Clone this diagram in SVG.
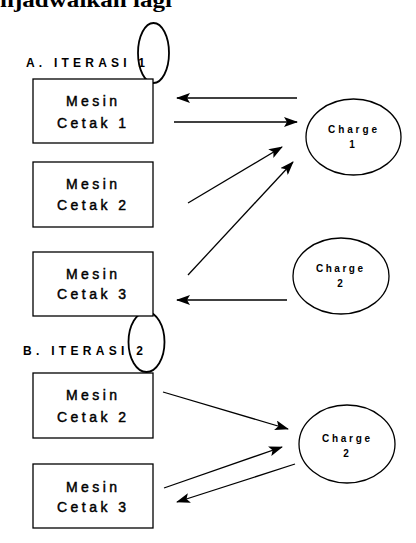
<svg xmlns="http://www.w3.org/2000/svg" width="416" height="543" viewBox="0 0 416 543">
<style>
.box{fill:#fff;stroke:#000;stroke-width:1.3}
.ell{fill:none;stroke:#000;stroke-width:1.3}
.mark{fill:none;stroke:#000;stroke-width:1.8}
.t{font-family:"Liberation Sans",Arial,sans-serif;font-size:14px;fill:#000;stroke:#000;stroke-width:0.45}
.h{font-family:"Liberation Sans",Arial,sans-serif;font-size:12px;fill:#000;font-weight:bold}
.c{font-family:"Liberation Sans",Arial,sans-serif;font-size:10px;fill:#000;font-weight:bold}
.top{font-family:"Liberation Serif","Times New Roman",serif;font-size:22px;font-weight:bold;fill:#000}
.ln{stroke:#000;stroke-width:1.3;fill:none;marker-end:url(#ah)}
</style>
<defs>
<marker id="ah" viewBox="0 0 14 10" refX="13" refY="5" markerWidth="14" markerHeight="10" markerUnits="userSpaceOnUse" orient="auto">
<path d="M0,0 L14,5 L0,10 L3,5 Z" fill="#000"/>
</marker>
</defs>
<rect width="416" height="543" fill="#fff"/>
<text class="top" x="0" y="7" textLength="172" lengthAdjust="spacingAndGlyphs">njadwalkan lagi</text>

<g id="titleA">
<text class="h" x="26" y="67" textLength="119" lengthAdjust="spacing">A. ITERASI 1</text>
<ellipse class="mark" cx="153.5" cy="53" rx="15.5" ry="30"/>
</g>
<g id="titleB">
<text class="h" x="23" y="355" textLength="120" lengthAdjust="spacing">B. ITERASI 2</text>
<ellipse class="mark" cx="146.5" cy="342" rx="18" ry="30"/>
</g>

<g id="mesin1a">
<rect class="box" x="33" y="79" width="120" height="64"/>
<text class="t" x="66" y="106" textLength="51" lengthAdjust="spacing">Mesin</text>
<text class="t" x="57" y="128" textLength="69" lengthAdjust="spacing">Cetak 1</text>
</g>
<g id="mesin2a">
<rect class="box" x="33" y="162" width="120" height="65"/>
<text class="t" x="66" y="189" textLength="51" lengthAdjust="spacing">Mesin</text>
<text class="t" x="57" y="210" textLength="69" lengthAdjust="spacing">Cetak 2</text>
</g>
<g id="mesin3a">
<rect class="box" x="33" y="252" width="120" height="64"/>
<text class="t" x="66" y="279" textLength="51" lengthAdjust="spacing">Mesin</text>
<text class="t" x="57" y="299" textLength="69" lengthAdjust="spacing">Cetak 3</text>
</g>
<g id="charge1a">
<ellipse class="ell" cx="353.5" cy="137" rx="47.5" ry="38"/>
<text class="c" x="328" y="133" textLength="49" lengthAdjust="spacing">Charge</text>
<text class="c" x="352" y="148" text-anchor="middle">1</text>
</g>
<g id="charge2a">
<ellipse class="ell" cx="341" cy="276" rx="48" ry="38"/>
<text class="c" x="316" y="272" textLength="47" lengthAdjust="spacing">Charge</text>
<text class="c" x="340" y="287" text-anchor="middle">2</text>
</g>

<g id="mesin2b">
<rect class="box" x="33" y="373" width="120" height="65"/>
<text class="t" x="66" y="400" textLength="51" lengthAdjust="spacing">Mesin</text>
<text class="t" x="57" y="422" textLength="69" lengthAdjust="spacing">Cetak 2</text>
</g>
<g id="mesin3b">
<rect class="box" x="33" y="464" width="120" height="64"/>
<text class="t" x="66" y="492" textLength="51" lengthAdjust="spacing">Mesin</text>
<text class="t" x="57" y="512" textLength="69" lengthAdjust="spacing">Cetak 3</text>
</g>
<g id="charge2b">
<ellipse class="ell" cx="347" cy="444" rx="48" ry="39"/>
<text class="c" x="322" y="442" textLength="48" lengthAdjust="spacing">Charge</text>
<text class="c" x="346" y="457" text-anchor="middle">2</text>
</g>

<g id="connectors">
<line class="ln" x1="297" y1="98" x2="177" y2="98"/>
<line class="ln" x1="174" y1="122" x2="297" y2="122"/>
<line class="ln" x1="188" y1="203" x2="282" y2="147"/>
<line class="ln" x1="188" y1="275" x2="293" y2="162"/>
<line class="ln" x1="287" y1="300" x2="177" y2="300"/>
<line class="ln" x1="163" y1="392" x2="288" y2="429"/>
<line class="ln" x1="164" y1="488" x2="282" y2="447"/>
<line class="ln" x1="295" y1="464" x2="177" y2="502"/>
</g>
</svg>
